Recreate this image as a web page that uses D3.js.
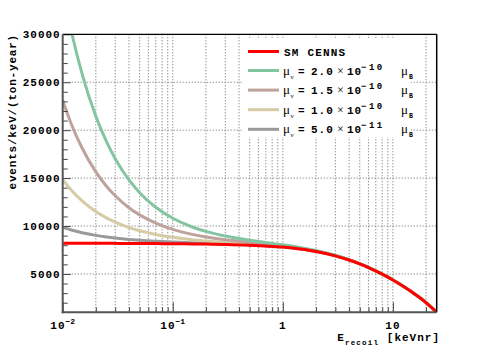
<!DOCTYPE html>
<html lang="en">
<head>
    <meta charset="UTF-8">
    <title>CEvNS + magnetic moment spectrum</title>
    <style>
        body { margin: 0; background: #fff; }
        text { font-family: "Liberation Mono", "DejaVu Sans Mono", monospace; font-weight: bold; fill: #000; }
        .sym { font-family: "Liberation Serif", "DejaVu Serif", serif; font-weight: normal; }
    </style>
</head>
<body>
    <div id="graph"></div>
    <script src="https://d3js.org/d3.v7.min.js"></script>
    <script>
        // Tamaño de la figura y del marco
        const WIDTH = 485;
        const HEIGHT = 348;
        const LEFT = 62.7, RIGHT = 436.7, TOP = 34.3, BOTTOM = 312.3;

        // Datos (energía en keVnr)
        const ENERGY = [0.01, 0.012, 0.015, 0.02, 0.025, 0.03, 0.04, 0.05, 0.07, 0.1, 0.15, 0.2, 0.3, 0.5, 0.7,
                        1, 1.5, 2, 3, 4, 5, 6, 8, 10, 12, 15, 20, 25];
        const SM_CENNS = [8203, 8201, 8199, 8196, 8193, 8190, 8184, 8179, 8169, 8155, 8134, 8113, 8073, 7995, 7915,
                          7800, 7572, 7350, 6890, 6453, 6041, 5661, 4974, 4363, 3818, 3081, 2019, 1000];
        const MU_20 = [34703, 30284, 25866, 21446, 18793, 17023, 14809, 13479, 11955, 10805, 9901, 9438, 8956, 8525, 8275,
                       8040, 7722, 7450, 6945, 6488, 6063, 5676, 4982, 4368, 3821, 3083, 2020, 1000];
        const MU_15 = [23109, 20623, 18137, 15649, 14156, 13159, 11911, 11160, 10299, 9646, 9128, 8858, 8570, 8293, 8118,
                       7935, 7656, 7406, 6921, 6473, 6053, 5669, 4979, 4366, 3820, 3082, 2020, 1000];
        const MU_10 = [14828, 13722, 12616, 11509, 10843, 10398, 9840, 9504, 9116, 8818, 8576, 8444, 8294, 8128, 8005,
                       7860, 7610, 7375, 6904, 6462, 6047, 5665, 4976, 4364, 3819, 3081, 2019, 1000];
        const MU_05 = [9859, 9581, 9303, 9024, 8856, 8742, 8598, 8510, 8406, 8321, 8244, 8196, 8128, 8028, 7938,
                       7815, 7581, 7356, 6893, 6455, 6042, 5662, 4974, 4363, 3818, 3081, 2019, 1000];

        const SERIES = [
            { values: MU_20, color: "#84c5a1", mant: "2.0", exp: "\u221210" },
            { values: MU_15, color: "#bea39d", mant: "1.5", exp: "\u221210" },
            { values: MU_10, color: "#d5cca6", mant: "1.0", exp: "\u221210" },
            { values: MU_05, color: "#999999", mant: "5.0", exp: "\u221211" }
        ];

        // Ticks
        const Y_MAJOR = [5000, 10000, 15000, 20000, 25000, 30000];
        const Y_MINOR = d3.range(2000, 30000, 1000).filter(v => v % 5000 !== 0);
        const X_MAJOR = [0.01, 0.1, 1, 10];
        const X_MAJOR_LABELS = [["10", "\u22122"], ["10", "\u22121"], ["1", ""], ["10", ""]];
        const X_MINOR = [2, 3, 4, 5, 6, 7, 8, 9].flatMap(m => [m * 0.01, m * 0.1, m]).concat([20]);

        // Escalas
        const xScale = d3.scaleLog().domain([0.01, 25]).range([LEFT, RIGHT]);
        const yScale = d3.scaleLinear().domain([1000, 30000]).range([BOTTOM, TOP]);

        const svg = d3.select("#graph")
            .append("svg")
            .attr("width", WIDTH)
            .attr("height", HEIGHT);

        // Rejilla punteada
        const grid = svg.append("g")
            .attr("stroke", "#666")
            .attr("stroke-width", 1)
            .attr("stroke-dasharray", "1,2");
        grid.selectAll("line.vx")
            .data(X_MAJOR.slice(1).concat(X_MINOR))
            .enter().append("line")
            .attr("x1", d => xScale(d)).attr("x2", d => xScale(d))
            .attr("y1", TOP).attr("y2", BOTTOM);
        grid.selectAll("line.hy")
            .data(Y_MAJOR.slice(0, -1))
            .enter().append("line")
            .attr("x1", LEFT).attr("x2", RIGHT)
            .attr("y1", d => yScale(d)).attr("y2", d => yScale(d));

        // Caja blanca de la leyenda (tapa la rejilla)
        svg.append("rect")
            .attr("x", 243).attr("y", 38)
            .attr("width", 168).attr("height", 99)
            .attr("fill", "#fff");

        // Curvas
        svg.append("clipPath").attr("id", "clip")
            .append("rect")
            .attr("x", LEFT).attr("y", TOP)
            .attr("width", RIGHT - LEFT).attr("height", BOTTOM - TOP);

        const line = d3.line()
            .x((d, i) => xScale(ENERGY[i]))
            .y(d => yScale(d))
            .curve(d3.curveMonotoneX);

        const curves = svg.append("g").attr("clip-path", "url(#clip)").attr("fill", "none");
        SERIES.slice().reverse().forEach(s => {
            curves.append("path")
                .attr("d", line(s.values))
                .attr("stroke", s.color)
                .attr("stroke-width", 3);
        });
        curves.append("path")
            .attr("d", line(SM_CENNS))
            .attr("stroke", "#ff0000")
            .attr("stroke-width", 3);

        // Ejes
        const yAxis = svg.append("g").attr("transform", `translate(${LEFT},0)`)
            .call(d3.axisLeft(yScale).tickValues(Y_MAJOR).tickSize(-8).tickPadding(2).tickFormat(d3.format("d")));
        svg.append("g").attr("transform", `translate(${LEFT},0)`)
            .call(d3.axisLeft(yScale).tickValues(Y_MINOR).tickSize(-5).tickFormat(""));
        svg.append("g").attr("transform", `translate(0,${BOTTOM})`)
            .call(d3.axisBottom(xScale).tickValues(X_MAJOR).tickSize(-10).tickFormat(""));
        svg.append("g").attr("transform", `translate(0,${BOTTOM})`)
            .call(d3.axisBottom(xScale).tickValues(X_MINOR).tickSize(-5).tickFormat(""));
        svg.selectAll(".domain").remove();
        svg.selectAll(".tick line").attr("stroke", "#444");
        yAxis.selectAll("text")
            .style("font-size", "11px")
            .style("letter-spacing", "1px")
            .style("font-family", "Liberation Mono, monospace")
            .style("font-weight", "bold");

        // Marco
        const frame = svg.append("g").attr("fill", "none");
        frame.append("line").attr("x1", LEFT).attr("x2", RIGHT).attr("y1", TOP).attr("y2", TOP)
            .attr("stroke", "#000").attr("stroke-width", 1.2);
        frame.append("line").attr("x1", RIGHT).attr("x2", RIGHT).attr("y1", TOP).attr("y2", BOTTOM)
            .attr("stroke", "#000").attr("stroke-width", 1.5);
        frame.append("line").attr("x1", LEFT).attr("x2", LEFT).attr("y1", TOP).attr("y2", BOTTOM + 1)
            .attr("stroke", "#555").attr("stroke-width", 2);
        frame.append("line").attr("x1", LEFT - 1).attr("x2", RIGHT).attr("y1", BOTTOM).attr("y2", BOTTOM)
            .attr("stroke", "#555").attr("stroke-width", 2);

        // Etiquetas del eje x (10^n)
        X_MAJOR.forEach((v, i) => {
            const t = svg.append("text")
                .attr("x", xScale(v)).attr("y", 329)
                .attr("text-anchor", "middle")
                .style("font-size", "11px")
                .style("letter-spacing", "1px");
            t.append("tspan").text(X_MAJOR_LABELS[i][0]);
            if (X_MAJOR_LABELS[i][1]) {
                t.append("tspan").attr("dy", -5).style("font-size", "8px").style("letter-spacing", "0px")
                    .text(X_MAJOR_LABELS[i][1]);
            }
        });

        // Título eje x
        const xt = svg.append("text")
            .attr("x", 440).attr("y", 341)
            .attr("text-anchor", "end")
            .style("font-size", "11px")
            .style("letter-spacing", "1px");
        xt.append("tspan").text("E");
        xt.append("tspan").attr("dy", 3.5).style("font-size", "7.5px").style("letter-spacing", "1.2px").text("recoil");
        xt.append("tspan").attr("dy", -3.5).text(" [keVnr]");

        // Título eje y
        svg.append("text")
            .attr("transform", "translate(16,34) rotate(-90)")
            .attr("text-anchor", "end")
            .style("font-size", "11px")
            .style("letter-spacing", "0.8px")
            .text("events/keV/(ton-year)");

        // Leyenda
        const legend = svg.append("g");
        legend.append("line")
            .attr("x1", 248).attr("x2", 279).attr("y1", 51.5).attr("y2", 51.5)
            .attr("stroke", "#ff0000").attr("stroke-width", 3);
        legend.append("text")
            .attr("x", 284).attr("y", 55.5)
            .style("font-size", "11px").style("letter-spacing", "1.2px")
            .text("SM CENNS");

        SERIES.forEach((s, i) => {
            const cy = 70.5 + 19.6 * i;
            const b = cy + 4;
            legend.append("line")
                .attr("x1", 248).attr("x2", 279).attr("y1", cy).attr("y2", cy)
                .attr("stroke", s.color).attr("stroke-width", 3);
            legend.append("text").attr("class", "sym").attr("x", 283).attr("y", b)
                .style("font-size", "13px").text("\u03bc");
            legend.append("text").attr("class", "sym").attr("x", 290.5).attr("y", b + 4)
                .style("font-size", "7px").text("\u03bd");
            legend.append("text").attr("x", 298).attr("y", b)
                .style("font-size", "11px").text("=");
            legend.append("text").attr("x", 311).attr("y", b)
                .style("font-size", "11px").style("letter-spacing", "1px").text(s.mant);
            legend.append("text").attr("class", "sym").attr("x", 337).attr("y", b)
                .style("font-size", "12px").text("\u00d7");
            legend.append("text").attr("x", 347).attr("y", b)
                .style("font-size", "11px").style("letter-spacing", "1px").text("10");
            legend.append("text").attr("x", 361).attr("y", b - 5)
                .style("font-size", "9px").style("letter-spacing", "2.5px").text(s.exp);
            legend.append("text").attr("class", "sym").attr("x", 401).attr("y", b)
                .style("font-size", "13px").text("\u03bc");
            legend.append("text").attr("x", 409).attr("y", b + 4)
                .style("font-size", "6.5px").text("B");
        });
    </script>
</body>
</html>
